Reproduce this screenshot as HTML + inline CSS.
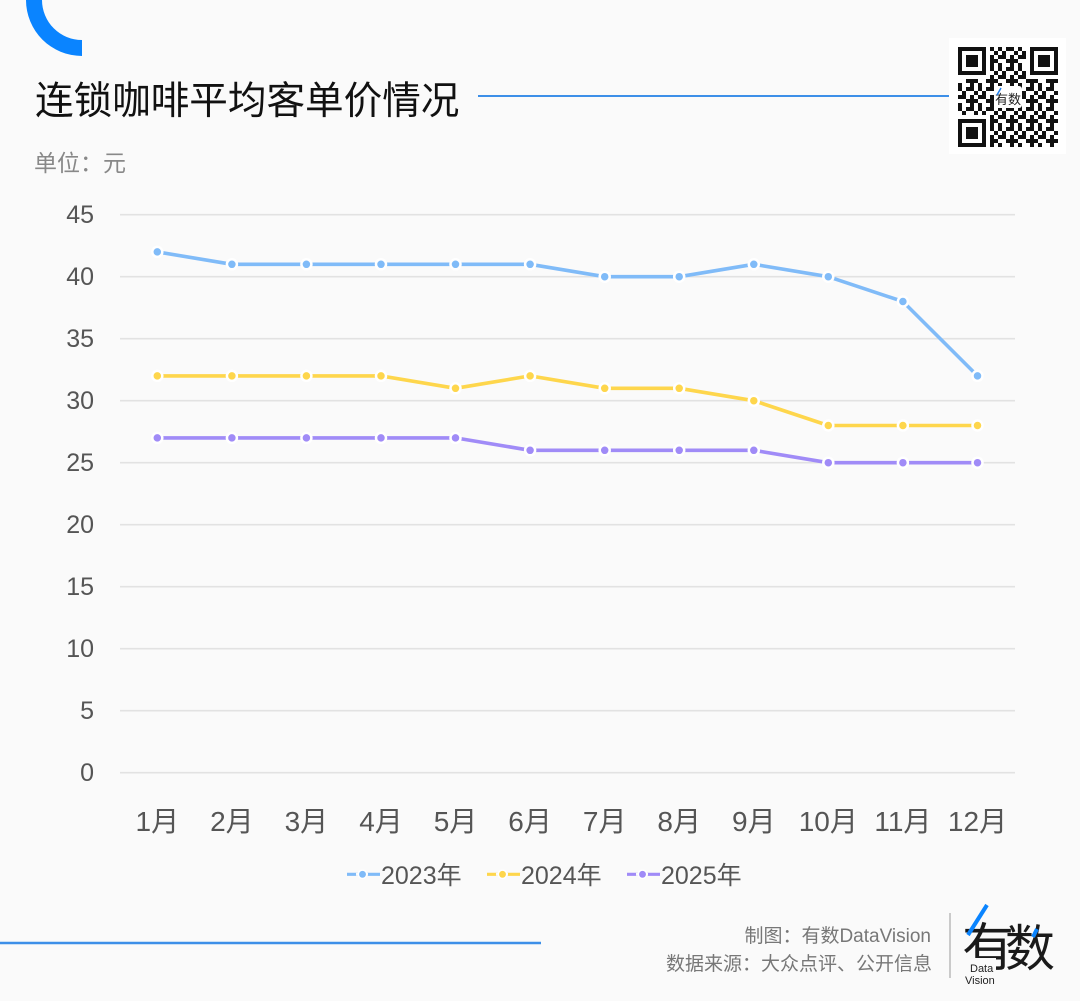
<!DOCTYPE html>
<html><head><meta charset="utf-8"><style>
html,body{margin:0;padding:0;background:#fafafa;}
svg{display:block;}
text{font-family:"Liberation Sans","Noto Sans CJK SC",sans-serif;}
</style></head><body>
<svg width="1080" height="1001" viewBox="0 0 1080 1001" xmlns="http://www.w3.org/2000/svg">
<defs>
<pattern id="qr" x="958" y="47" width="20" height="20" patternUnits="userSpaceOnUse">
<rect x="0" y="0" width="4" height="4" fill="#111"/><rect x="8" y="0" width="8" height="4" fill="#111"/>
<rect x="4" y="4" width="4" height="4" fill="#111"/><rect x="16" y="4" width="4" height="4" fill="#111"/>
<rect x="0" y="8" width="8" height="4" fill="#111"/><rect x="12" y="8" width="4" height="4" fill="#111"/>
<rect x="8" y="12" width="12" height="4" fill="#111"/>
<rect x="0" y="16" width="4" height="4" fill="#111"/><rect x="12" y="16" width="4" height="4" fill="#111"/>
</pattern>
</defs>
<rect width="1080" height="1001" fill="#fafafa"/>
<!-- corner arc -->
<path d="M26,0 A56,56 0 0 0 82,56 L82,40 A40,40 0 0 1 42,0 Z" fill="#0a84ff"/>
<!-- title -->
<text x="35" y="114" font-size="38.6" fill="#111" font-family="Noto Sans CJK SC, sans-serif">连锁咖啡平均客单价情况</text>
<line x1="478" y1="96" x2="950" y2="96" stroke="#3d8fe8" stroke-width="2"/>
<text x="34" y="171" font-size="23" fill="#888" font-family="Noto Sans CJK SC, sans-serif">单位：元</text>
<!-- QR -->
<rect x="949" y="38" width="117" height="116" fill="#fff"/>
<rect x="958" y="47" width="100" height="100" fill="url(#qr)"/>
<g>
<rect x="958" y="47" width="32" height="32" fill="#fff"/>
<rect x="1026" y="47" width="32" height="32" fill="#fff"/>
<rect x="958" y="115" width="32" height="32" fill="#fff"/>
<rect x="960" y="49" width="24" height="24" fill="none" stroke="#111" stroke-width="4"/>
<rect x="966" y="55" width="12" height="12" fill="#111"/>
<rect x="1032" y="49" width="24" height="24" fill="none" stroke="#111" stroke-width="4"/>
<rect x="1038" y="55" width="12" height="12" fill="#111"/>
<rect x="960" y="121" width="24" height="24" fill="none" stroke="#111" stroke-width="4"/>
<rect x="966" y="127" width="12" height="12" fill="#111"/>
<rect x="994" y="86" width="28" height="22" fill="#fff" rx="3"/>
<text x="995" y="104" font-size="13" fill="#222" font-family="Noto Sans CJK SC, sans-serif">有数</text>
<line x1="1001" y1="88" x2="997" y2="95" stroke="#1e7ff0" stroke-width="1.5"/>
</g>
<!-- grid -->
<g stroke="#e2e2e2" stroke-width="1.6">
<line x1="120" x2="1015" y1="214.7" y2="214.7"/>
<line x1="120" x2="1015" y1="276.7" y2="276.7"/>
<line x1="120" x2="1015" y1="338.7" y2="338.7"/>
<line x1="120" x2="1015" y1="400.7" y2="400.7"/>
<line x1="120" x2="1015" y1="462.7" y2="462.7"/>
<line x1="120" x2="1015" y1="524.7" y2="524.7"/>
<line x1="120" x2="1015" y1="586.7" y2="586.7"/>
<line x1="120" x2="1015" y1="648.7" y2="648.7"/>
<line x1="120" x2="1015" y1="710.7" y2="710.7"/>
<line x1="120" x2="1015" y1="772.7" y2="772.7"/>
</g>
<g font-size="25" fill="#555" text-anchor="end">
<text x="94" y="223">45</text>
<text x="94" y="285">40</text>
<text x="94" y="347">35</text>
<text x="94" y="409">30</text>
<text x="94" y="471">25</text>
<text x="94" y="533">20</text>
<text x="94" y="595">15</text>
<text x="94" y="657">10</text>
<text x="94" y="719">5</text>
<text x="94" y="781">0</text>
</g>
<g font-size="28" fill="#555" text-anchor="middle">
<text x="157.3" y="831">1月</text>
<text x="231.9" y="831">2月</text>
<text x="306.4" y="831">3月</text>
<text x="381.0" y="831">4月</text>
<text x="455.5" y="831">5月</text>
<text x="530.1" y="831">6月</text>
<text x="604.7" y="831">7月</text>
<text x="679.2" y="831">8月</text>
<text x="753.8" y="831">9月</text>
<text x="828.3" y="831">10月</text>
<text x="902.9" y="831">11月</text>
<text x="977.5" y="831">12月</text>
</g>
<!-- series -->
<g fill="none" stroke-width="3.6" stroke-linejoin="round">
<polyline stroke="#80bbf8" points="157.3,251.9 231.9,264.3 306.4,264.3 381.0,264.3 455.5,264.3 530.1,264.3 604.7,276.7 679.2,276.7 753.8,264.3 828.3,276.7 902.9,301.5 977.5,375.9"/>
<polyline stroke="#fed64c" points="157.3,375.9 231.9,375.9 306.4,375.9 381.0,375.9 455.5,388.3 530.1,375.9 604.7,388.3 679.2,388.3 753.8,400.7 828.3,425.5 902.9,425.5 977.5,425.5"/>
<polyline stroke="#a08bf7" points="157.3,437.9 231.9,437.9 306.4,437.9 381.0,437.9 455.5,437.9 530.1,450.3 604.7,450.3 679.2,450.3 753.8,450.3 828.3,462.7 902.9,462.7 977.5,462.7"/>
</g>
<g stroke="#fff" stroke-width="2.5">
<g fill="#80bbf8">
<circle cx="157.3" cy="251.9" r="5"/><circle cx="231.9" cy="264.3" r="5"/><circle cx="306.4" cy="264.3" r="5"/><circle cx="381.0" cy="264.3" r="5"/><circle cx="455.5" cy="264.3" r="5"/><circle cx="530.1" cy="264.3" r="5"/><circle cx="604.7" cy="276.7" r="5"/><circle cx="679.2" cy="276.7" r="5"/><circle cx="753.8" cy="264.3" r="5"/><circle cx="828.3" cy="276.7" r="5"/><circle cx="902.9" cy="301.5" r="5"/><circle cx="977.5" cy="375.9" r="5"/>
</g>
<g fill="#fed64c">
<circle cx="157.3" cy="375.9" r="5"/><circle cx="231.9" cy="375.9" r="5"/><circle cx="306.4" cy="375.9" r="5"/><circle cx="381.0" cy="375.9" r="5"/><circle cx="455.5" cy="388.3" r="5"/><circle cx="530.1" cy="375.9" r="5"/><circle cx="604.7" cy="388.3" r="5"/><circle cx="679.2" cy="388.3" r="5"/><circle cx="753.8" cy="400.7" r="5"/><circle cx="828.3" cy="425.5" r="5"/><circle cx="902.9" cy="425.5" r="5"/><circle cx="977.5" cy="425.5" r="5"/>
</g>
<g fill="#a08bf7">
<circle cx="157.3" cy="437.9" r="5"/><circle cx="231.9" cy="437.9" r="5"/><circle cx="306.4" cy="437.9" r="5"/><circle cx="381.0" cy="437.9" r="5"/><circle cx="455.5" cy="437.9" r="5"/><circle cx="530.1" cy="450.3" r="5"/><circle cx="604.7" cy="450.3" r="5"/><circle cx="679.2" cy="450.3" r="5"/><circle cx="753.8" cy="450.3" r="5"/><circle cx="828.3" cy="462.7" r="5"/><circle cx="902.9" cy="462.7" r="5"/><circle cx="977.5" cy="462.7" r="5"/>
</g>
</g>
<!-- legend -->
<g stroke-width="3.2">
<line x1="347" x2="380" y1="874.3" y2="874.3" stroke="#80bbf8"/>
<line x1="487" x2="520" y1="874.3" y2="874.3" stroke="#fed64c"/>
<line x1="627" x2="660" y1="874.3" y2="874.3" stroke="#a08bf7"/>
</g>
<g stroke="#fafafa" stroke-width="3">
<line x1="356" x2="368" y1="874.3" y2="874.3"/>
<line x1="496" x2="508" y1="874.3" y2="874.3"/>
<line x1="636" x2="648" y1="874.3" y2="874.3"/>
</g>
<g stroke="#fff" stroke-width="1.5">
<circle cx="362.5" cy="874.3" r="4.2" fill="#80bbf8"/>
<circle cx="502.5" cy="874.3" r="4.2" fill="#fed64c"/>
<circle cx="642.5" cy="874.3" r="4.2" fill="#a08bf7"/>
</g>
<g font-size="25" fill="#555">
<text x="381" y="884">2023年</text>
<text x="521" y="884">2024年</text>
<text x="661" y="884">2025年</text>
</g>
<!-- footer -->
<line x1="0" y1="943" x2="541" y2="943" stroke="#3d8fe8" stroke-width="2.6"/>
<g font-size="19" fill="#777" text-anchor="end">
<text x="931" y="942">制图：有数DataVision</text>
<text x="932" y="970">数据来源：大众点评、公开信息</text>
</g>
<line x1="950" y1="913" x2="950" y2="978" stroke="#aaa" stroke-width="1.2"/>
<text x="962" y="966" font-size="52" fill="#1a1a1a" font-family="Noto Sans CJK SC, sans-serif">有</text>
<text x="1005" y="966" font-size="50" fill="#1a1a1a" font-family="Noto Sans CJK SC, sans-serif">数</text>
<line x1="987" y1="905" x2="968" y2="935" stroke="#0a84ff" stroke-width="4"/>
<line x1="1037" y1="929" x2="1033" y2="937" stroke="#0a84ff" stroke-width="4"/>
<rect x="966" y="958" width="30" height="28" fill="#fafafa"/>
<text x="970" y="972" font-size="11" fill="#222">Data</text>
<text x="965" y="984" font-size="11" fill="#222">Vision</text>
</svg>
</body></html>
